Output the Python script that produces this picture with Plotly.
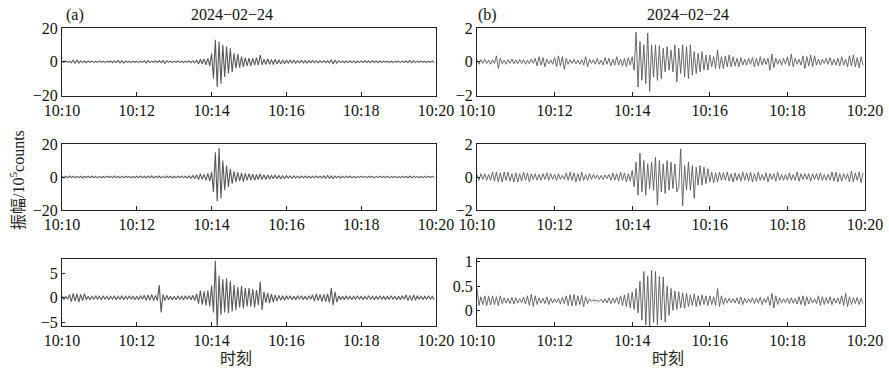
import pandas as pd
import plotly.graph_objects as go

# time axis: 3-second samples from 10:10:00
t = pd.date_range("2024-02-24 10:10:00", periods=200, freq="3s")

# (a) column, amplitude in 1e5 counts (one line = one minute)
a1 = [0.4,-0.5,0.6,-0.4,0.3,-0.6,0.9,-1.0,1.1,-0.8,0.6,-0.5,0.4,-0.6,0.5,-0.3,0.4,-0.5,0.3,-0.4,
      0.5,-0.4,0.3,-0.5,0.4,-0.3,0.5,-0.6,0.4,-0.5,0.8,-0.7,0.6,-0.8,0.5,-0.4,0.3,-0.5,0.4,-0.3,
      0.4,-0.5,0.3,-0.4,0.6,-0.8,0.7,-0.5,0.4,-0.3,0.5,-0.4,0.6,-0.5,0.8,-0.9,0.6,-0.4,0.3,-0.5,
      0.4,-0.3,0.5,-0.4,0.3,-0.5,0.4,-0.4,0.5,-0.6,0.6,-0.7,1.0,-1.3,1.5,-1.2,1.6,-1.8,2.0,-2.5,
      5.0,-10.0,13.0,-15.0,12.0,-13.0,10.0,-9.0,9.0,-7.0,8.0,-6.0,5.0,-4.0,4.5,-3.5,3.0,-3.0,2.5,-2.5,
      2.2,-2.4,2.0,-1.8,2.5,-2.0,4.0,-1.8,1.5,-1.6,1.8,-1.5,1.4,-1.6,1.5,-1.3,1.2,-1.4,1.0,-1.2,
      0.9,-0.8,1.0,-0.7,0.8,-0.9,0.6,-0.7,0.8,-0.6,0.7,-0.8,0.6,-0.5,0.7,-0.6,0.5,-0.7,0.6,-0.5,
      0.6,-0.5,0.7,-0.8,1.2,-1.3,1.0,-0.9,0.6,-0.5,0.5,-0.6,0.4,-0.5,0.6,-0.4,0.5,-0.6,0.4,-0.5,
      0.5,-0.4,0.6,-0.5,0.4,-0.5,0.6,-0.4,0.5,-0.6,0.4,-0.5,0.5,-0.4,0.3,-0.5,0.4,-0.5,0.4,-0.3,
      0.4,-0.5,0.4,-0.3,0.5,-0.6,0.8,-0.7,0.6,-0.5,0.4,-0.4,0.5,-0.3,0.4,-0.5,0.3,-0.4,0.5,-0.4]

a2 = [0.5,-0.6,0.4,-0.5,0.6,-0.4,0.5,-0.5,0.3,-0.4,0.5,-0.6,0.4,-0.3,0.5,-0.4,0.6,-0.5,0.4,-0.5,
      0.4,-0.5,0.3,-0.4,0.5,-0.3,0.4,-0.5,0.6,-0.4,0.3,-0.5,0.4,-0.4,0.5,-0.3,0.4,-0.5,0.3,-0.4,
      0.5,-0.4,0.6,-0.5,0.4,-0.6,0.5,-0.4,0.7,-0.6,0.5,-0.4,0.6,-0.5,0.4,-0.5,0.6,-0.4,0.5,-0.6,
      0.4,-0.5,0.5,-0.4,0.6,-0.5,0.5,-0.6,0.7,-0.8,0.9,-1.0,1.3,-1.5,1.8,-1.4,1.6,-2.0,2.2,-2.5,
      3.0,-9.0,15.0,-14.5,17.5,-13.0,10.0,-8.0,7.0,-6.0,5.0,-4.0,3.5,-3.0,3.0,-2.5,2.5,-2.8,2.2,-2.0,
      2.0,-1.8,1.7,-2.0,1.6,-1.5,1.8,-1.6,1.4,-1.5,1.3,-1.2,1.0,-1.1,1.2,-1.0,0.9,-1.0,0.8,-0.9,
      0.8,-0.7,0.6,-0.8,0.7,-0.6,0.5,-0.6,0.6,-0.5,0.6,-0.5,0.4,-0.6,0.5,-0.5,0.6,-0.4,0.5,-0.6,
      0.7,-0.8,0.9,-0.8,0.7,-0.9,0.6,-0.5,0.5,-0.6,0.4,-0.5,0.5,-0.4,0.6,-0.5,0.4,-0.5,0.4,-0.4,
      0.5,-0.4,0.4,-0.5,0.5,-0.3,0.4,-0.5,0.4,-0.4,0.5,-0.4,0.3,-0.4,0.5,-0.5,0.4,-0.3,0.4,-0.5,
      0.4,-0.5,0.5,-0.4,0.3,-0.5,0.6,-0.5,0.5,-0.4,0.4,-0.5,0.3,-0.4,0.5,-0.4,0.4,-0.3,0.5,-0.4]

a3 = [0.3,-0.4,0.3,-0.3,0.6,-0.8,0.9,-0.7,0.8,-0.9,0.7,-0.6,0.8,-0.4,0.3,-0.4,0.3,-0.3,0.4,-0.3,
      0.3,-0.4,0.4,-0.3,0.3,-0.4,0.3,-0.3,0.4,-0.4,0.3,-0.3,0.4,-0.4,0.3,-0.3,0.4,-0.3,0.3,-0.4,
      0.3,-0.4,0.4,-0.3,0.5,-0.6,0.6,-0.5,0.7,-0.6,0.5,-0.6,2.6,-3.0,0.7,-0.6,0.5,-0.4,0.3,-0.4,
      0.3,-0.4,0.4,-0.3,0.3,-0.4,0.4,-0.3,0.4,-0.4,0.5,-0.6,0.8,-1.2,1.5,-1.4,1.3,-1.6,1.5,-1.8,
      2.5,-3.0,7.6,-6.5,4.5,-3.5,3.8,-3.0,4.0,-3.2,3.5,-2.8,2.6,-2.5,2.2,-2.0,2.4,-2.2,2.0,-1.8,
      2.0,-1.8,1.8,-2.0,1.6,-1.5,3.3,-2.5,1.2,-1.0,1.0,-1.1,0.8,-0.9,0.6,-0.7,0.5,-0.5,0.4,-0.5,
      0.4,-0.3,0.4,-0.4,0.3,-0.4,0.4,-0.3,0.4,-0.4,0.3,-0.4,0.4,-0.3,0.6,-0.7,0.8,-0.6,0.7,-0.8,
      0.7,-0.8,0.8,-1.0,2.0,-1.5,1.2,-0.9,0.4,-0.4,0.3,-0.4,0.4,-0.3,0.3,-0.4,0.3,-0.3,0.4,-0.3,
      0.3,-0.4,0.3,-0.3,0.4,-0.3,0.3,-0.4,0.3,-0.3,0.4,-0.3,0.3,-0.4,0.3,-0.3,0.4,-0.3,0.3,-0.4,
      0.3,-0.4,0.4,-0.3,0.6,-0.6,0.5,-0.6,0.6,-0.5,0.4,-0.3,0.3,-0.4,0.3,-0.3,0.4,-0.3,0.3,-0.4]

# (b) column
b1 = [0.1,-0.15,0.12,-0.1,0.15,-0.1,0.1,-0.15,0.12,-0.1,0.35,-0.4,0.2,-0.12,0.1,-0.15,0.12,-0.1,0.15,-0.12,
      0.1,-0.12,0.15,-0.1,0.12,-0.15,0.1,-0.12,0.15,-0.1,0.2,-0.25,0.3,-0.2,0.25,-0.3,0.15,-0.12,0.1,-0.15,
      0.25,-0.3,0.35,-0.25,0.3,-0.45,0.2,-0.15,0.12,-0.1,0.15,-0.12,0.1,-0.15,0.12,-0.2,0.3,-0.3,0.15,-0.1,
      0.12,-0.15,0.2,-0.15,0.1,-0.2,0.25,-0.15,0.2,-0.25,0.15,-0.2,0.3,-0.2,0.15,-0.25,0.2,-0.3,0.25,-0.2,
      0.3,-0.5,1.75,-1.5,1.2,-1.1,1.0,-1.3,1.7,-1.75,1.0,-0.9,1.0,-1.1,0.95,-1.0,0.8,-0.6,0.9,-0.5,
      0.7,-0.6,1.0,-1.2,0.8,-0.7,1.0,-0.9,0.9,-1.0,1.0,-0.8,0.6,-0.7,0.5,-0.6,0.6,-0.5,0.4,-0.5,
      0.4,-0.3,0.3,-0.4,0.7,-0.4,0.3,-0.4,0.35,-0.3,0.4,-0.3,0.3,-0.25,0.2,-0.3,0.25,-0.2,0.15,-0.2,
      0.2,-0.15,0.25,-0.3,0.2,-0.25,0.3,-0.2,0.2,-0.15,0.2,-0.5,0.45,-0.35,0.2,-0.15,0.15,-0.2,0.2,-0.15,
      0.3,-0.25,0.45,-0.3,0.2,-0.15,0.15,-0.2,0.35,-0.4,0.3,-0.25,0.4,-0.3,0.35,-0.2,0.15,-0.2,0.15,-0.1,
      0.2,-0.15,0.25,-0.2,0.15,-0.2,0.2,-0.25,0.3,-0.2,0.15,-0.3,0.35,-0.25,0.4,-0.3,0.25,-0.35,0.3,-0.2]

b2 = [0.15,-0.2,0.2,-0.15,0.2,-0.2,0.15,-0.2,0.3,-0.25,0.3,-0.3,0.25,-0.3,0.3,-0.2,0.3,-0.25,0.2,-0.3,
      0.25,-0.3,0.2,-0.25,0.3,-0.2,0.25,-0.3,0.2,-0.15,0.2,-0.2,0.15,-0.2,0.2,-0.15,0.25,-0.2,0.2,-0.15,
      0.15,-0.2,0.2,-0.15,0.1,-0.15,0.25,-0.2,0.3,-0.2,0.25,-0.3,0.2,-0.25,0.3,-0.2,0.15,-0.2,0.2,-0.15,
      0.15,-0.1,0.12,-0.15,0.1,-0.15,0.12,-0.1,0.15,-0.2,0.25,-0.2,0.2,-0.25,0.3,-0.2,0.25,-0.3,0.2,-0.25,
      0.4,-0.6,0.9,-1.1,1.45,-0.9,1.0,-1.1,0.8,-0.7,0.9,-0.8,1.2,-1.7,1.0,-0.9,0.8,-1.0,1.0,-0.8,
      0.9,-0.7,0.8,-0.9,-0.6,1.7,-1.75,0.7,-0.8,0.9,-0.8,0.7,-1.3,0.6,-0.5,0.7,-0.5,0.6,-0.4,0.5,
      -0.3,0.3,-0.35,0.25,-0.3,0.3,-0.2,0.25,-0.2,0.3,-0.25,0.2,-0.3,0.25,-0.2,0.2,-0.25,0.3,-0.2,0.25,
      -0.25,0.3,-0.3,0.2,-0.25,0.3,-0.2,0.15,-0.2,0.25,-0.3,0.2,-0.15,0.2,-0.25,0.3,-0.2,0.15,-0.2,0.15,
      -0.2,0.25,-0.2,0.15,-0.2,0.3,-0.25,0.2,-0.15,0.2,-0.15,0.2,-0.25,0.2,-0.15,0.2,-0.2,0.25,-0.2,0.15,
      -0.2,0.15,-0.2,0.3,-0.25,0.3,-0.3,0.2,-0.25,0.2,-0.15,0.2,-0.3,0.35,-0.3,0.25,-0.2,0.3,-0.35,0.25]

b3 = [0.45,0.1,0.28,0.12,0.3,0.1,0.29,0.11,0.3,0.12,0.28,0.1,0.3,0.14,0.26,0.15,0.25,0.14,0.27,0.13,
      0.26,0.15,0.24,0.16,0.27,0.13,0.3,0.1,0.33,0.08,0.3,0.12,0.26,0.15,0.25,0.14,0.28,0.12,0.25,0.15,
      0.24,0.16,0.25,0.13,0.27,0.14,0.3,0.1,0.32,0.09,0.33,0.1,0.3,0.12,0.31,0.08,0.28,0.14,0.24,0.18,
      0.22,0.19,0.21,0.18,0.23,0.16,0.24,0.15,0.26,0.14,0.25,0.15,0.27,0.13,0.3,0.1,0.32,0.08,0.35,0.05,
      0.38,0.02,0.45,-0.05,0.6,-0.2,0.8,-0.3,0.7,-0.35,0.82,-0.25,0.8,-0.3,0.7,-0.2,0.69,-0.24,0.5,-0.1,
      0.45,0.0,0.4,0.02,0.38,0.05,0.36,0.04,0.35,0.08,0.32,0.1,0.34,0.08,0.3,0.1,0.32,0.12,0.3,0.1,
      0.3,0.12,0.28,0.1,0.45,0.08,0.3,0.12,0.26,0.15,0.25,0.16,0.24,0.15,0.26,0.13,0.28,0.12,0.25,0.15,
      0.24,0.16,0.26,0.14,0.25,0.15,0.27,0.12,0.24,0.16,0.28,0.1,0.35,0.05,0.3,0.12,0.26,0.15,0.24,0.16,
      0.25,0.14,0.26,0.15,0.24,0.13,0.28,0.12,0.3,0.1,0.28,0.13,0.26,0.15,0.24,0.14,0.3,0.1,0.28,0.12,
      0.26,0.14,0.28,0.12,0.25,0.15,0.26,0.13,0.3,0.1,0.35,0.08,0.28,0.12,0.26,0.14,0.27,0.12,0.25,0.14]

traces = [a1, a2, a3, b1, b2, b3]
y_ranges = [[-20, 20], [-20, 20], [-5.8, 7.9], [-2, 2], [-2, 2], [-0.32, 1.05]]
y_ticks = [[-20, 0, 20], [-20, 0, 20], [-5, 0, 5], [-2, 0, 2], [-2, 0, 2], [0, 0.5, 1]]
y_ticktext = [["−20", "0", "20"], ["−20", "0", "20"], ["−5", "0", "5"],
              ["−2", "0", "2"], ["−2", "0", "2"], ["0", "0.5", "1"]]
x_tickvals = pd.date_range("2024-02-24 10:10:00", periods=6, freq="2min")
x_ticktext = ["10:10", "10:12", "10:14", "10:16", "10:18", "10:20"]

W, H = 889, 376
col_px = [(62, 436), (477, 865)]
row_px = [(28, 95.5), (144, 210), (259.3, 326)]
line_w = [1.1, 1.1, 1.1, 0.9, 0.9, 0.9]

SERIF = "Liberation Serif"
fig = go.Figure()
for i, y in enumerate(traces):
    col, row = divmod(i, 3)
    n = i + 1
    xa = "x" if n == 1 else f"x{n}"
    ya = "y" if n == 1 else f"y{n}"
    fig.add_trace(go.Scatter(x=t, y=y, mode="lines", xaxis=xa, yaxis=ya,
                             line=dict(color="#5a5a5a", width=line_w[i]), showlegend=False,
                             hoverinfo="skip"))
    x0, x1 = col_px[col]
    y0, y1 = row_px[row]
    fig.layout[f"xaxis{'' if n == 1 else n}"] = dict(
        domain=[x0 / W, x1 / W], anchor=ya, automargin=False,
        range=[pd.Timestamp("2024-02-24 10:10:00"), pd.Timestamp("2024-02-24 10:20:00")],
        tickvals=x_tickvals, ticktext=x_ticktext, ticks="inside", ticklen=4,
        tickcolor="#222", showline=True, linecolor="#222", linewidth=1, mirror=True,
        showgrid=False, zeroline=False,
        tickfont=dict(family=SERIF, size=16, color="#111"))
    fig.layout[f"yaxis{'' if n == 1 else n}"] = dict(
        domain=[1 - y1 / H, 1 - y0 / H], anchor=xa, automargin=False,
        range=y_ranges[i], tickvals=y_ticks[i], ticktext=y_ticktext[i],
        ticks="inside", ticklen=3, tickcolor="#222",
        showline=True, linecolor="#222", linewidth=1, mirror=True,
        showgrid=False, zeroline=False,
        tickfont=dict(family=SERIF, size=16, color="#111"))

annots = [
    dict(text="(a)", x=64 / W, y=1 - 15 / H, xanchor="left"),
    dict(text="2024−02−24", x=232 / W, y=1 - 15 / H, xanchor="center"),
    dict(text="(b)", x=476 / W, y=1 - 15 / H, xanchor="left"),
    dict(text="2024−02−24", x=688 / W, y=1 - 15 / H, xanchor="center"),
]
for a in annots:
    fig.add_annotation(xref="paper", yref="paper", yanchor="middle", showarrow=False,
                       font=dict(family=SERIF, size=16, color="#111"), **a)

fig.add_annotation(text="振幅/10<sup>5</sup>counts", xref="paper", yref="paper",
                   x=17 / W, y=1 - 180 / H, textangle=-90, showarrow=False,
                   xanchor="center", yanchor="middle",
                   font=dict(family="Liberation Serif, Noto Sans CJK SC", size=16, color="#222"))
for xc in (236, 668):
    fig.add_annotation(text="时刻", xref="paper", yref="paper", x=xc / W, y=1 - 357 / H,
                       showarrow=False, xanchor="center", yanchor="middle",
                       font=dict(family="Noto Sans CJK SC", size=16, color="#222"))

fig.update_layout(width=W, height=H, margin=dict(l=0, r=0, t=0, b=0, pad=0),
                  autosize=False, paper_bgcolor="white", plot_bgcolor="white")
fig.write_html("out.html", config={"displayModeBar": False},
               post_script="document.body.style.margin='0';document.body.style.overflow='hidden';")
